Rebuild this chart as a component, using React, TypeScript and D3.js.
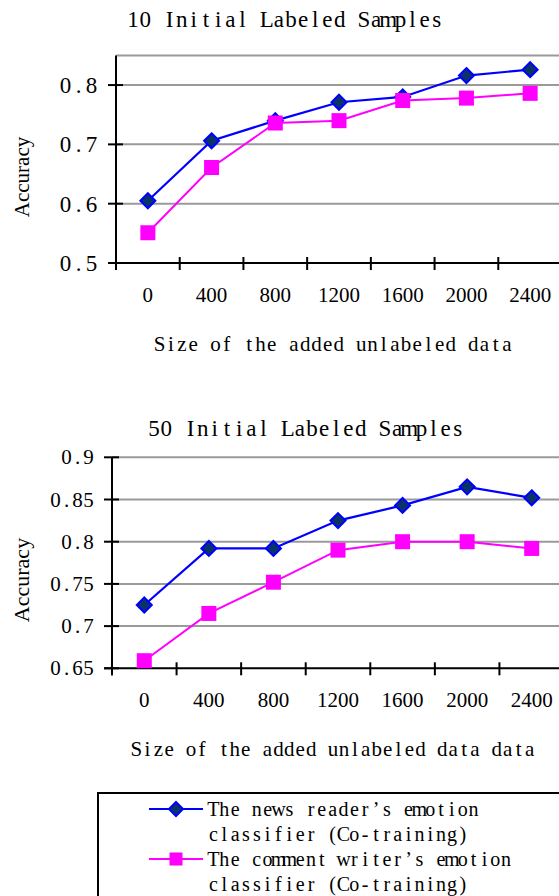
import React from 'react';
import * as d3 from 'd3';

// x categories (size of the added unlabeled data)
const sizes = ['0', '400', '800', '1200', '1600', '2000', '2400'];

// chart 1: 10 initial labeled samples
const reader10 = [0.605, 0.706, 0.74, 0.771, 0.78, 0.816, 0.826];
const writer10 = [0.551, 0.661, 0.736, 0.74, 0.774, 0.778, 0.786];
const ticks10 = [0.5, 0.6, 0.7, 0.8];

// chart 2: 50 initial labeled samples
const reader50 = [0.725, 0.792, 0.792, 0.825, 0.843, 0.865, 0.852];
const writer50 = [0.659, 0.715, 0.752, 0.79, 0.8, 0.8, 0.792];
const ticks50 = [0.65, 0.7, 0.75, 0.8, 0.85, 0.9];

const legendLines = [
  'The news reader’s emotion',
  'classifier (Co-training)',
  'The comment writer’s emotion',
  'classifier (Co-training)',
];

const BLUE = '#0000ff';
const NAVY = '#0a3468';
const PINK = '#ff00ff';
const GRID = '#9a9a9a';
const SERIF = '"Liberation Serif", "DejaVu Serif", serif';

// fixed-pitch serif text (each character centred in its own cell)
const MText = ({
  x,
  y,
  adv,
  size,
  anchor = 'start',
  children,
}: {
  x: number;
  y: number;
  adv: number;
  size: number;
  anchor?: 'start' | 'end';
  children: string;
}) => {
  const chars = Array.from(children);
  const start = anchor === 'end' ? x - chars.length * adv : x;
  const xs = chars.map((_, i) => (start + i * adv + adv / 2).toFixed(2)).join(' ');
  return (
    <text x={xs} y={y} textAnchor="middle" fontFamily={SERIF} fontSize={size} style={{ whiteSpace: 'pre' }}>
      {children}
    </text>
  );
};

const Diamond = ({ x, y, r }: { x: number; y: number; r: number }) => (
  <path
    d={`M${x},${y - r}L${x + r},${y}L${x},${y + r}L${x - r},${y}Z`}
    fill={NAVY}
    stroke={BLUE}
    strokeWidth={2}
  />
);

const Square = ({ x, y, s }: { x: number; y: number; s: number }) => (
  <rect x={x - s / 2} y={y - s / 2} width={s} height={s} fill={PINK} />
);

interface PanelProps {
  title: string;
  titleX: number;
  titleY: number;
  xLabel: string;
  xLabelX: number;
  xLabelY: number;
  xLabelAdv: number;
  left: number;
  right: number;
  top: number;
  bottom: number;
  domain: [number, number];
  ticks: number[];
  tickFmt: (v: number) => string;
  tickSize: number;
  tickAdv: number;
  tickRight: number;
  xTickSize: number;
  xTickY: number;
  accY: number;
  accSize: number;
  reader: number[];
  writer: number[];
}

const Panel: React.FC<PanelProps> = (p) => {
  const x = d3.scaleBand<string>().domain(sizes).range([p.left, p.right]);
  const y = d3.scaleLinear().domain(p.domain).range([p.bottom, p.top]);
  const cx = (d: string) => (x(d) as number) + x.bandwidth() / 2;
  const line = d3
    .line<number>()
    .x((_, i) => cx(sizes[i]))
    .y((v) => y(v));
  // gridlines above the baseline, plus the top edge
  const gridVals = Array.from(new Set([...p.ticks.filter((t) => t > p.domain[0]), p.domain[1]]));
  const xTickPos = sizes.map((s) => x(s) as number).concat([p.right]);

  return (
    <g>
      <MText x={p.titleX} y={p.titleY} adv={12.15} size={23}>
        {p.title}
      </MText>
      {gridVals.map((v) => (
        <line key={v} x1={p.left} x2={559} y1={y(v)} y2={y(v)} stroke={GRID} strokeWidth={2} />
      ))}
      {/* y axis */}
      <line x1={p.left} x2={p.left} y1={p.top} y2={p.bottom + 7} stroke="#000" strokeWidth={2} />
      {p.ticks.map((v) => (
        <g key={v}>
          <line x1={p.left - 8} x2={p.left + 7} y1={y(v)} y2={y(v)} stroke="#000" strokeWidth={2} />
          <MText x={p.tickRight} y={y(v) + p.tickSize * 0.34} adv={p.tickAdv} size={p.tickSize} anchor="end">
            {p.tickFmt(v)}
          </MText>
        </g>
      ))}
      {/* x axis */}
      <line x1={p.left - 8} x2={559} y1={p.bottom} y2={p.bottom} stroke="#000" strokeWidth={2} />
      {xTickPos.map((t, i) => (
        <line key={i} x1={t} x2={t} y1={p.bottom - 6} y2={p.bottom + 7} stroke="#000" strokeWidth={2} />
      ))}
      {sizes.map((s) => (
        <text key={s} x={cx(s)} y={p.xTickY} textAnchor="middle" fontFamily={SERIF} fontSize={p.xTickSize}>
          {s}
        </text>
      ))}
      <MText x={p.xLabelX} y={p.xLabelY} adv={p.xLabelAdv} size={21}>
        {p.xLabel}
      </MText>
      <text
        transform={`translate(29,${p.accY}) rotate(-90)`}
        textAnchor="middle"
        fontFamily={SERIF}
        fontSize={p.accSize}
      >
        Accuracy
      </text>
      <path d={line(p.writer) || ''} fill="none" stroke={PINK} strokeWidth={2} />
      <path d={line(p.reader) || ''} fill="none" stroke={BLUE} strokeWidth={2.2} />
      {p.reader.map((v, i) => (
        <Diamond key={i} x={cx(sizes[i])} y={y(v)} r={7.5} />
      ))}
      {p.writer.map((v, i) => (
        <Square key={i} x={cx(sizes[i])} y={y(v)} s={15} />
      ))}
    </g>
  );
};

const App: React.FC = () => {
  return (
    <svg
      width={559}
      height={896}
      style={{ position: 'absolute', left: 0, top: 0, background: '#fff' }}
    >
      <Panel
        title="10 Initial Labeled Samples"
        titleX={127}
        titleY={27}
        xLabel="Size of the added unlabeled data"
        xLabelX={154}
        xLabelY={351}
        xLabelAdv={11.2}
        left={116}
        right={562}
        top={55.4}
        bottom={263}
        domain={[0.5, 0.85]}
        ticks={ticks10}
        tickFmt={d3.format('.1f')}
        tickSize={23}
        tickAdv={13}
        tickRight={98}
        xTickSize={21}
        xTickY={302}
        accY={177}
        accSize={21}
        reader={reader10}
        writer={writer10}
      />
      <Panel
        title="50 Initial Labeled Samples"
        titleX={148}
        titleY={436}
        xLabel="Size of the added unlabeled data data"
        xLabelX={131}
        xLabelY={756}
        xLabelAdv={10.92}
        left={112}
        right={564}
        top={457.3}
        bottom={668.3}
        domain={[0.65, 0.9]}
        ticks={ticks50}
        tickFmt={(v) => d3.format('.2~f')(v)}
        tickSize={21}
        tickAdv={11}
        tickRight={94}
        xTickSize={21}
        xTickY={707}
        accY={580}
        accSize={22}
        reader={reader50}
        writer={writer50}
      />
      {/* legend */}
      <rect x={98} y={793} width={470} height={120} fill="none" stroke="#000" strokeWidth={2} />
      <line x1={149} x2={203} y1={809} y2={809} stroke={BLUE} strokeWidth={2.2} />
      <Diamond x={176} y={809} r={7} />
      <line x1={149} x2={203} y1={859} y2={859} stroke={PINK} strokeWidth={2.2} />
      <Square x={176} y={859} s={13} />
      {legendLines.map((t, i) => (
        <MText key={i} x={208} y={816 + i * 25} adv={10.84} size={20}>
          {t}
        </MText>
      ))}
    </svg>
  );
};

export default App;
